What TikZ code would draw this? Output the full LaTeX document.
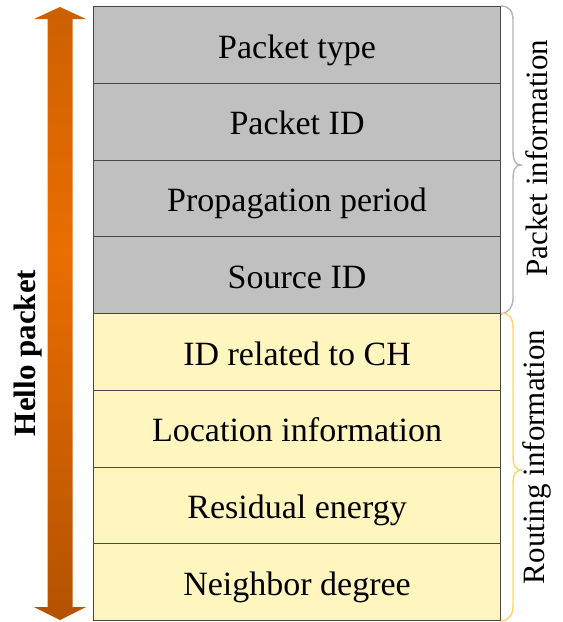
\documentclass[tikz,border=0pt]{standalone}
\usepackage{fontspec}
\setmainfont{Liberation Serif}
\definecolor{boxline}{HTML}{474747}
\definecolor{grayfill}{HTML}{C0C0C0}
\definecolor{yelfill}{HTML}{FFF5BE}
\definecolor{gbr}{HTML}{B5B5B5}
\definecolor{ybr}{HTML}{FFD46A}
\definecolor{arrtop}{HTML}{A84E00}
\definecolor{arrmid}{HTML}{EA6E00}
\definecolor{arrbot}{HTML}{B45200}
\pgfdeclareverticalshading{arrshade}{100bp}{color(0bp)=(arrbot); color(25bp)=(arrbot); color(55bp)=(arrmid); color(100bp)=(arrtop)}
\begin{document}
\begin{tikzpicture}[x=1pt,y=-1pt,
  field/.style={draw=boxline, line width=1.1pt, minimum width=407pt, minimum height=76.75pt,
    anchor=north west, inner sep=0pt, text height=30pt, text depth=3.8pt,
    font=\fontsize{34}{36}\selectfont},
  pinfo/.style={field, fill=grayfill},
  rinfo/.style={field, fill=yelfill},
  sidelabel/.style={rotate=90, font=\fontsize{31}{34}\selectfont, inner sep=0pt},
  gbrace/.style={draw=gbr, line width=1.4pt},
  ybrace/.style={draw=ybr, line width=1.4pt}]
\useasboundingbox (0,0) rectangle (563,622);
\node[pinfo] (f1) at (93,6) {Packet type};
\node[pinfo] (f2) at (93,82.75) {Packet ID};
\node[pinfo] (f3) at (93,159.5) {Propagation period};
\node[pinfo] (f4) at (93,236.25) {Source ID};
\node[rinfo] (f5) at (93,313) {ID related to CH};
\node[rinfo] (f6) at (93,389.75) {Location information};
\node[rinfo] (f7) at (93,466.5) {Residual energy};
\node[rinfo] (f8) at (93,543.25) {Neighbor degree};
% double arrow
\shade[shading=arrshade]
  (60,7) -- (86,19) -- (72.5,19) -- (72.5,607) -- (86,607) -- (60,620)
  -- (34,607) -- (47.5,607) -- (47.5,19) -- (34,19) -- cycle;
\node[rotate=90, font=\bfseries\fontsize{31}{34}\selectfont] (hello) at (28,353) {Hello packet};
% braces
\draw[gbrace] (f1.north east) .. controls (509,6) and (513,11) .. (513,20) -- (513,150)
  .. controls (513,160) and (515,165) .. (521,165)
  .. controls (515,165) and (513,170) .. (513,180) -- (513,298)
  .. controls (513,307) and (509,312) .. (f4.south east);
\draw[ybrace] (f5.north east) .. controls (509,313) and (513,318) .. (513,327) -- (513,455)
  .. controls (513,465) and (515,470) .. (522,470)
  .. controls (515,470) and (513,475) .. (513,485) -- (513,606)
  .. controls (513,615) and (509,620) .. (f8.south east);
\node[sidelabel] (plabel) at (537,158) {Packet information};
\node[sidelabel] (rlabel) at (537,457) {Routing information};
\end{tikzpicture}
\end{document}
